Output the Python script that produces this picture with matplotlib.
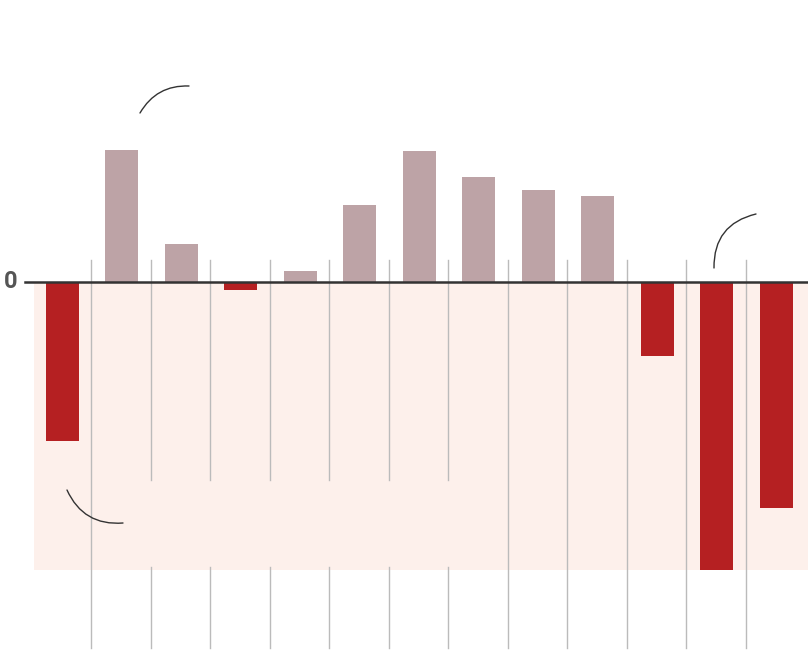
import matplotlib.pyplot as plt

# valores (unidad arbitraria, 0 = eje)
valores = [-159, 132, 38, -8, 11, 77, 131, 105, 92, 86, -74, -288, -226]
posiciones = list(range(len(valores)))

color_pos = "#bda3a6"
color_neg = "#b52022"
fondo_neg = "#fdf0eb"

fig = plt.figure(figsize=(8.08, 6.68), dpi=100)
ax = fig.add_axes([0, 0, 1, 1])
ax.set_xlim(-1.05, 12.53)
ax.set_ylim(-386, 282)
ax.axis("off")

# zona negativa sombreada
ax.fill_between([-0.48, 12.53], min(valores), 0, color=fondo_neg, zorder=0, lw=0)

# lineas verticales entre barras
for i in range(len(valores) - 1):
    x = i + 0.48
    if 1 <= i <= 6:
        ax.plot([x, x], [22, -198], color="#bbbbbb", lw=1, zorder=1)
        ax.plot([x, x], [-285, -366], color="#bbbbbb", lw=1, zorder=1)
    else:
        ax.plot([x, x], [22, -366], color="#bbbbbb", lw=1, zorder=1)

colores = [color_pos if v > 0 else color_neg for v in valores]
ax.bar(posiciones, valores, width=0.555, color=colores, zorder=2)

ax.plot([-0.63, 12.53], [0, 0], color="#333333", lw=1.8, zorder=3)
ax.text(-0.87, 0, "0", ha="center", va="center", fontsize=17,
        fontweight="bold", color="#555555", family="Roboto")

# conectores de anotacion (sin texto)
arcos = [((140, 555), (189, 582), -0.3),
         ((67, 178), (123, 145), 0.35),
         ((714, 400), (756, 454), -0.4)]
for ini, fin, rad in arcos:
    ax.annotate("", xy=fin, xytext=ini, xycoords="figure pixels",
                arrowprops=dict(arrowstyle="-", color="#333333", lw=1,
                                shrinkA=0, shrinkB=0,
                                connectionstyle="arc3,rad=%s" % rad))

fig.savefig("out.png", dpi=100)
